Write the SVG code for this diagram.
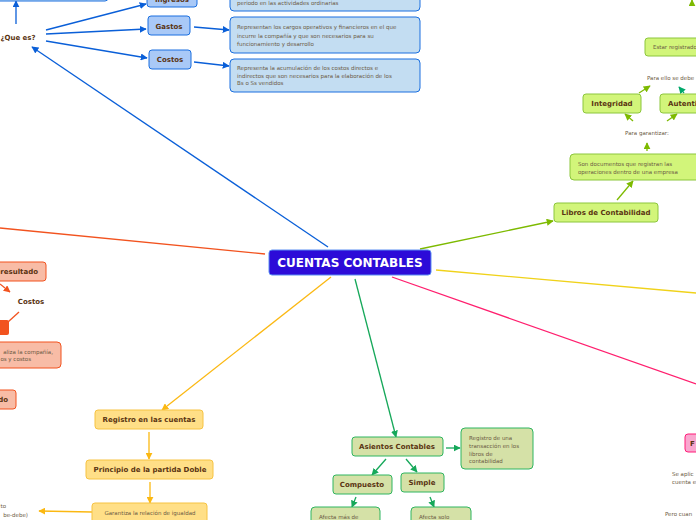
<svg xmlns="http://www.w3.org/2000/svg" width="696" height="520" viewBox="0 0 696 520">
<defs>
<style>
.t{font-family:"DejaVu Sans","Liberation Sans",sans-serif}
.b{font-weight:bold;font-size:7px;fill:#5a3412;text-anchor:middle}
.d{font-size:5.5px;fill:#6b5a44}
.s{text-anchor:start}
.e{text-anchor:end}
.m{text-anchor:middle}
.bl{fill:#a9c9f7;stroke:#1a6fe0;stroke-width:1}
.bd{fill:#c3ddf2;stroke:#1a6fe0;stroke-width:1}
.lm{fill:#d2f57a;stroke:#8cc63c;stroke-width:1}
.or{fill:#f8bca6;stroke:#f2531f;stroke-width:1}
.ye{fill:#ffdf87;stroke:#f6c343;stroke-width:1}
.gr{fill:#d5e1a7;stroke:#2fb560;stroke-width:1}
.pk{fill:#f9a7cf;stroke:#ff1c78;stroke-width:1}
.c{fill:none;stroke-width:1.3}
</style>
<marker id="ab" viewBox="0 0 10 10" refX="9" refY="5" markerWidth="7" markerHeight="7" markerUnits="userSpaceOnUse" orient="auto"><path d="M0,0L10,5L0,10z" fill="#0a5fd8"/></marker>
<marker id="al" viewBox="0 0 10 10" refX="9" refY="5" markerWidth="7" markerHeight="7" markerUnits="userSpaceOnUse" orient="auto"><path d="M0,0L10,5L0,10z" fill="#7dba00"/></marker>
<marker id="at" viewBox="0 0 10 10" refX="9" refY="5" markerWidth="7" markerHeight="7" markerUnits="userSpaceOnUse" orient="auto"><path d="M0,0L10,5L0,10z" fill="#00a86b"/></marker>
<marker id="ao" viewBox="0 0 10 10" refX="9" refY="5" markerWidth="7" markerHeight="7" markerUnits="userSpaceOnUse" orient="auto"><path d="M0,0L10,5L0,10z" fill="#f2531f"/></marker>
<marker id="ay" viewBox="0 0 10 10" refX="9" refY="5" markerWidth="7" markerHeight="7" markerUnits="userSpaceOnUse" orient="auto"><path d="M0,0L10,5L0,10z" fill="#fbb812"/></marker>
<marker id="ag" viewBox="0 0 10 10" refX="9" refY="5" markerWidth="7" markerHeight="7" markerUnits="userSpaceOnUse" orient="auto"><path d="M0,0L10,5L0,10z" fill="#16a85a"/></marker>
</defs>
<rect width="696" height="520" fill="#ffffff"/>

<g id="connectors">
<g stroke="#0a5fd8" class="c">
<line x1="16" y1="24" x2="16" y2="1" marker-end="url(#ab)"/>
<line x1="46" y1="30" x2="146" y2="4" marker-end="url(#ab)"/>
<line x1="46" y1="34" x2="146" y2="29" marker-end="url(#ab)"/>
<line x1="46" y1="41" x2="147" y2="58" marker-end="url(#ab)"/>
<line x1="194" y1="27" x2="229" y2="30" marker-end="url(#ab)"/>
<line x1="194" y1="62" x2="229" y2="66" marker-end="url(#ab)"/>
<line x1="328" y1="247" x2="32" y2="47" marker-end="url(#ab)"/>
</g>
<g stroke="#7dba00" class="c">
<line x1="420" y1="249" x2="553" y2="221" marker-end="url(#al)"/>
<line x1="617" y1="200" x2="633" y2="181" marker-end="url(#al)"/>
<line x1="647" y1="151" x2="647" y2="143" marker-end="url(#al)"/>
<line x1="633" y1="121" x2="625" y2="114" marker-end="url(#al)"/>
<line x1="667" y1="121" x2="677" y2="114" marker-end="url(#al)"/>
<line x1="639" y1="93" x2="650" y2="86" marker-end="url(#al)"/>
<line x1="692" y1="5" x2="692" y2="0" marker-end="url(#al)"/>
</g>
<line x1="684" y1="93" x2="679" y2="87" stroke="#00a86b" class="c" marker-end="url(#at)"/>
<g stroke="#f2531f" class="c">
<line x1="265" y1="254" x2="0" y2="228"/>
<line x1="0" y1="284" x2="10" y2="292" marker-end="url(#ao)"/>
<line x1="19" y1="312" x2="8" y2="322"/>
</g>
<g stroke="#fbb812" class="c">
<line x1="331" y1="277" x2="162" y2="410" marker-end="url(#ay)"/>
<line x1="149" y1="432" x2="149" y2="459" marker-end="url(#ay)"/>
<line x1="150" y1="482" x2="150" y2="503" marker-end="url(#ay)"/>
<line x1="92" y1="512" x2="39" y2="511" marker-end="url(#ay)"/>
</g>
<line x1="436" y1="270" x2="696" y2="293" stroke="#f0d21a" class="c"/>
<line x1="392" y1="277" x2="696" y2="384" stroke="#ff1f6e" class="c"/>
<g stroke="#16a85a" class="c">
<line x1="355" y1="279" x2="396" y2="437" marker-end="url(#ag)"/>
<line x1="446" y1="448" x2="460" y2="448" marker-end="url(#ag)"/>
<line x1="386" y1="459" x2="372" y2="475" marker-end="url(#ag)"/>
<line x1="406" y1="459" x2="417" y2="472" marker-end="url(#ag)"/>
<line x1="356" y1="497" x2="352" y2="507" marker-end="url(#ag)"/>
<line x1="430" y1="497" x2="434" y2="507" marker-end="url(#ag)"/>
</g>
</g>

<g id="top-box"><rect x="-10" y="-30" width="118" height="31" rx="3" class="bd"/></g>
<g id="que-es"><text x="18" y="40" class="t b">¿Que es?</text></g>
<g id="ingresos"><rect x="147" y="-12" width="50" height="19" rx="3" class="bl"/><text x="172" y="1.5" class="t b">Ingresos</text></g>
<g id="gastos"><rect x="148" y="16" width="42" height="19" rx="3" class="bl"/><text x="169" y="28.5" class="t b">Gastos</text></g>
<g id="costos"><rect x="149" y="50" width="42" height="19" rx="3" class="bl"/><text x="170" y="62" class="t b">Costos</text></g>
<g id="desc-ingresos"><rect x="230" y="-20" width="190" height="31" rx="4" class="bd"/><text x="237" y="5" class="t d">periodo en las actividades ordinarias</text></g>
<g id="desc-gastos"><rect x="230" y="17" width="190" height="36" rx="4" class="bd"/>
<text class="t d"><tspan x="237" y="29">Representan los cargos operativos y financieros en el que</tspan><tspan x="237" y="37.5">incurre la compañía y que son necesarios para su</tspan><tspan x="237" y="46">funcionamiento y desarrollo</tspan></text></g>
<g id="desc-costos"><rect x="230" y="59" width="190" height="33" rx="4" class="bd"/>
<text class="t d"><tspan x="237" y="70">Representa la acumulación de los costos directos e</tspan><tspan x="237" y="78">indirectos que son necesarios para la elaboración de los</tspan><tspan x="237" y="85">Bs o Ss vendidos</tspan></text></g>

<g id="central"><rect x="269" y="250" width="162" height="25" rx="3" fill="#2c0bd8" stroke="#5a8ef2" stroke-width="1"/><text x="350" y="267" class="t" font-size="12" font-weight="bold" fill="#ffffff" text-anchor="middle">CUENTAS CONTABLES</text></g>

<g id="libros"><rect x="554" y="203" width="104" height="19" rx="3" class="lm"/><text x="606" y="215" class="t b">Libros de Contabilidad</text></g>
<g id="desc-libros"><rect x="570" y="154" width="140" height="26" rx="4" class="lm"/>
<text class="t d"><tspan x="578" y="166">Son documentos que registran las</tspan><tspan x="578" y="174">operaciones dentro de una empresa</tspan></text></g>
<g id="para-garantizar"><text x="647" y="135" class="t d m">Para garantizar:</text></g>
<g id="integridad"><rect x="583" y="94" width="58" height="19" rx="3" class="lm"/><text x="612" y="106" class="t b">Integridad</text></g>
<g id="autenticidad"><rect x="660" y="94" width="60" height="19" rx="3" class="lm"/><text x="668" y="106" class="t b s">Autenticidad</text></g>
<g id="para-ello"><text x="647" y="80" class="t d">Para ello se debe</text></g>
<g id="estar"><rect x="645" y="38" width="70" height="18" rx="3" class="lm"/><text x="653" y="49" class="t d">Estar registrado</text></g>

<g id="estado-resultado"><rect x="-40" y="262" width="86" height="19" rx="3" class="or"/><text x="38" y="274" class="t b e">Estado de resultado</text></g>
<g id="costos-2"><text x="31" y="304" class="t b">Costos</text></g>
<g id="square"><rect x="-10" y="320" width="19" height="15" rx="2" fill="#f2531f"/></g>
<g id="desc-orange"><rect x="-80" y="342" width="141" height="26" rx="4" class="or"/>
<text class="t d"><tspan x="53" y="354" class="e">aliza la compañía,</tspan><tspan x="31" y="361" class="e">os y costos</tspan></text></g>
<g id="orange-do"><rect x="-60" y="390" width="76" height="19" rx="3" class="or"/><text x="8" y="402" class="t b e">do</text></g>

<g id="registro"><rect x="95" y="410" width="108" height="19" rx="3" class="ye"/><text x="149" y="422" class="t b">Registro en las cuentas</text></g>
<g id="principio"><rect x="86" y="460" width="127" height="19" rx="3" class="ye"/><text x="150" y="472" class="t b">Principio de la partida Doble</text></g>
<g id="garantiza"><rect x="92" y="503" width="115" height="25" rx="3" class="ye"/><text x="150" y="515" class="t d m">Garantiza la relación de igualdad</text></g>
<g id="haber-debe"><text class="t d"><tspan x="6" y="508" class="e">to</tspan><tspan x="28" y="517" class="e">be-debe)</tspan></text></g>

<g id="pink-node"><rect x="685" y="434" width="30" height="18" rx="3" class="pk"/><text x="690" y="446" class="t b s">F</text></g>
<g id="pink-text"><text class="t d"><tspan x="672" y="476">Se aplic</tspan><tspan x="672" y="484">cuenta e</tspan><tspan x="665" y="516">Pero cuan</tspan></text></g>

<g id="asientos"><rect x="352" y="437" width="91" height="19" rx="3" class="gr"/><text x="397" y="449" class="t b" fill="#2f3d12">Asientos Contables</text></g>
<g id="desc-asientos"><rect x="461" y="428" width="72" height="41" rx="4" class="gr"/>
<text class="t d"><tspan x="469" y="440">Registro de una</tspan><tspan x="469" y="448">transacción en los</tspan><tspan x="469" y="456">libros de</tspan><tspan x="469" y="463">contabilidad</tspan></text></g>
<g id="compuesto"><rect x="333" y="475" width="59" height="19" rx="3" class="gr"/><text x="362" y="487" class="t b">Compuesto</text></g>
<g id="simple"><rect x="401" y="473" width="43" height="19" rx="3" class="gr"/><text x="422" y="485" class="t b">Simple</text></g>
<g id="afecta-mas"><rect x="311" y="507" width="69" height="25" rx="4" class="gr"/><text x="319" y="519" class="t d">Afecta más de</text></g>
<g id="afecta-solo"><rect x="411" y="507" width="60" height="25" rx="4" class="gr"/><text x="419" y="519" class="t d">Afecta solo</text></g>
</svg>
